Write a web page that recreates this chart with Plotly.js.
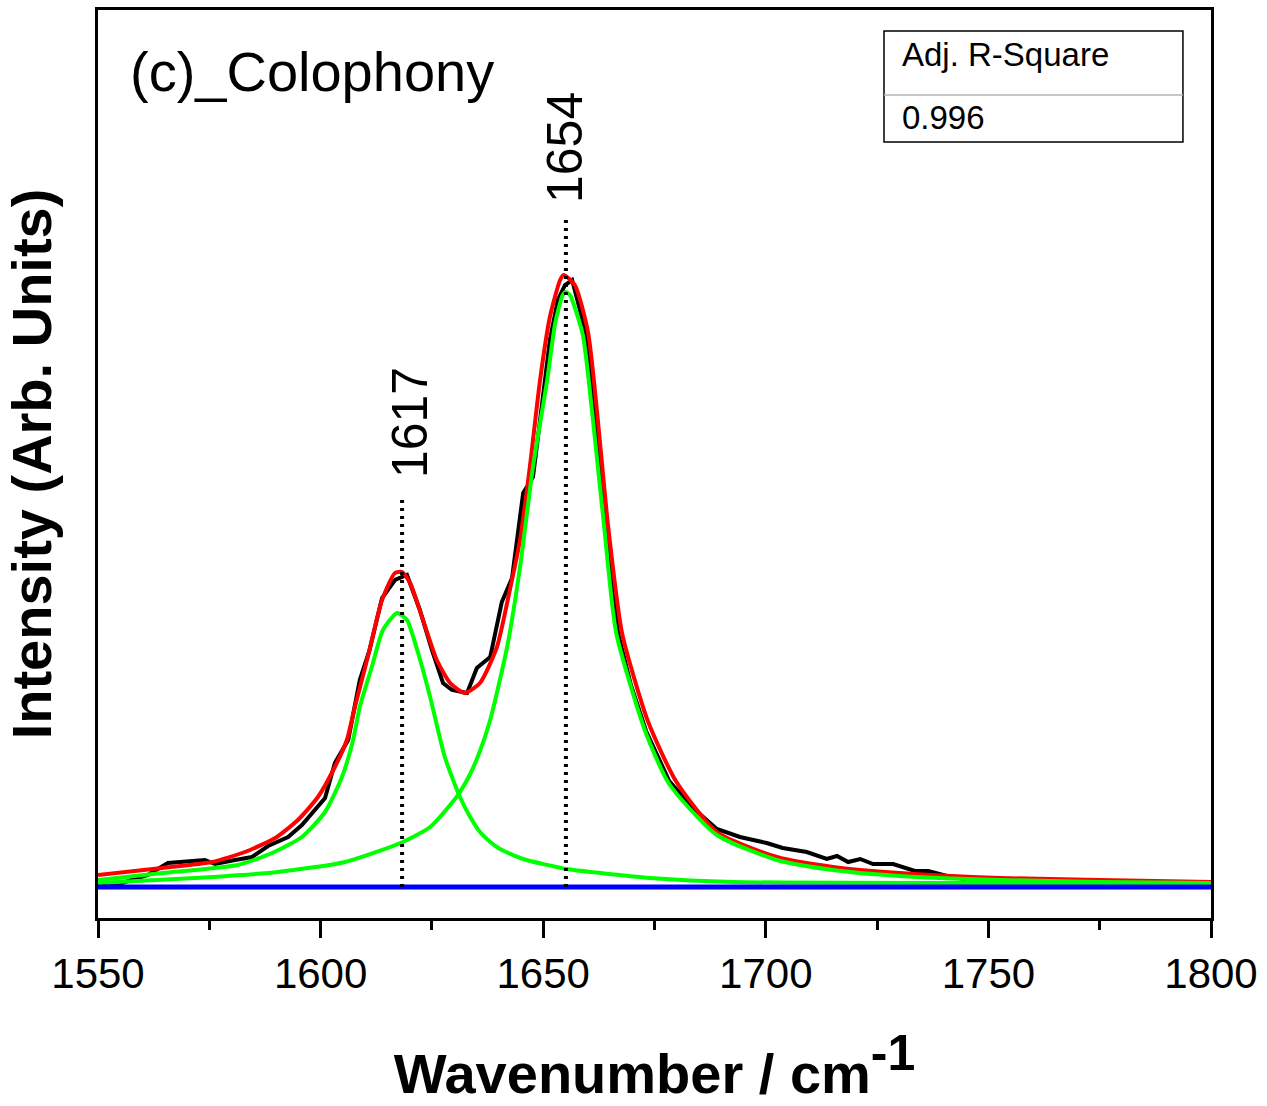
<!DOCTYPE html>
<html>
<head>
<meta charset="utf-8">
<script src="https://cdn.plot.ly/plotly-3.0.1.min.js"></script>
<style>html,body{margin:0;padding:0;background:#fff;}</style>
</head>
<body>
<div id="chart" style="width:1267px;height:1106px;"></div>
<script>
// Measured spectrum (black)
const dataX = [1550,1555.4,1561.2,1565.7,1574.0,1576.3,1580.8,1584.6,1588.2,1592.7,1595.8,1601.0,1603.2,1606.2,1608.8,1611.0,1613.8,1616.7,1619.4,1622.3,1625.0,1627.5,1629.5,1632.9,1635.1,1638.1,1640.7,1643.0,1645.5,1647.7,1649.3,1651.5,1653.3,1654.9,1656.5,1659.6,1661.6,1664.1,1666.8,1669.7,1673.1,1678.3,1683.9,1689.0,1694.2,1700.2,1703.8,1709.2,1713.7,1716.0,1718.5,1721.2,1724.1,1728.6,1733.5,1736.5,1740.7,1744.5,1748.8,1755,1765,1775,1787,1800];
const dataY = [2,4,12,24,27,23,27,30,41,50,62,89,124,147,207,237,289,307,312,277,237,204,197,194,219,230,285,309,394,410,467,547,587,602,607,554,466,360,254,202,156,106,78,58,50,44,39,35,28,31,25,28,23,23,16,16,11,8,5,3,2,3,2,3];

// Cumulative fit (red)
const fitX = [1550,1564.4,1575.6,1583.0,1589.8,1594.9,1599.4,1603.2,1605.9,1607.7,1610.6,1613.8,1616.7,1618.3,1620.1,1623.0,1626.1,1629.1,1632.4,1635.8,1639.6,1642.5,1644.8,1647.0,1649.3,1651.5,1653.8,1654.6,1657.1,1660.1,1664.6,1667.7,1673.5,1679.8,1689.0,1702.5,1715.1,1730.1,1752.6,1775,1800];
const fitY = [12,19,25,35,49,67,90,120,147,180,230,287,314,315,304,267,227,204,194,204,240,297,347,420,507,570,607,612,602,554,360,254,166,106,55,30,20,14,9,7,5];

// Component peak at 1617 (green)
const peak1X = [1550,1564.4,1581.4,1589.1,1595.8,1601.0,1604.8,1607.3,1608.8,1611.5,1614.0,1617.2,1619.4,1621.9,1624.6,1627.9,1631.3,1633.6,1635.8,1638.1,1640.3,1645.5,1655.3,1662.8,1674.0,1692.6,1752.6,1800];
const peak1Y = [7,14,22,34,50,75,110,147,180,220,257,274,267,234,190,130,90,70,55,45,38,28,18,14,9,5,4,3];

// Component peak at 1654 (green)
const peak2X = [1550,1571.8,1590.4,1605.5,1618.5,1624.6,1629.1,1631.3,1633.6,1635.8,1638.1,1641.9,1644.8,1647.7,1650.9,1652.7,1654.4,1655.1,1656.0,1658.9,1661.2,1663.7,1666.4,1672.9,1678.3,1689.0,1702.5,1715.1,1730.1,1752.6,1775,1800];
const peak2Y = [4,9,15,25,45,60,82,95,113,136,167,240,320,420,507,564,592,595,592,552,466,360,254,156,103,52,27,17,11,7,5,4];

// Baseline (blue)
const baseX = [1550, 1800];
const baseY = [0, 0];

// Peak markers
const peakLineX = [1618.3, 1655.1];
const peakLineTop = [390, 667];
const peakLabels = ['1617', '1654'];
const peakLabelX = [1620.1, 1654.9];
const peakLabelY = [464, 739];

const panelLabel = '(c)_Colophony';
const statName = 'Adj. R-Square';
const statValue = '0.996';

const FONT = 'Liberation Sans, Arial, Helvetica, sans-serif';

const traces = [
  {x: dataX, y: dataY, mode: 'lines', line: {color: '#000000', width: 4}, hoverinfo: 'skip'},
  {x: fitX, y: fitY, mode: 'lines', line: {color: '#ff0000', width: 4, shape: 'spline', smoothing: 0.6}, hoverinfo: 'skip'},
  {x: peak1X, y: peak1Y, mode: 'lines', line: {color: '#00ff00', width: 4, shape: 'spline', smoothing: 0.6}, hoverinfo: 'skip'},
  {x: peak2X, y: peak2Y, mode: 'lines', line: {color: '#00ff00', width: 4, shape: 'spline', smoothing: 0.6}, hoverinfo: 'skip'},
  {x: baseX, y: baseY, mode: 'lines', line: {color: '#0000ff', width: 5}, hoverinfo: 'skip'}
];
peakLineX.forEach((px, i) => {
  traces.push({x: [px, px], y: [0, peakLineTop[i]], mode: 'lines',
    line: {color: '#000000', width: 4, dash: '3px,5px'}, hoverinfo: 'skip'});
});

const annotations = peakLabels.map((t, i) => ({
  x: peakLabelX[i], y: peakLabelY[i], xref: 'x', yref: 'y', text: t, showarrow: false,
  textangle: -90, xanchor: 'center', yanchor: 'middle',
  font: {family: FONT, size: 50, color: '#000'}
}));
annotations.push({x: 0.027, y: 0.932, xref: 'paper', yref: 'paper', text: panelLabel, showarrow: false,
  xanchor: 'left', yanchor: 'middle', font: {family: FONT, size: 56, color: '#000'}});
annotations.push({x: 0.7206, y: 0.9515, xref: 'paper', yref: 'paper', text: statName, showarrow: false,
  xanchor: 'left', yanchor: 'middle', font: {family: FONT, size: 33, color: '#000'}});
annotations.push({x: 0.7206, y: 0.8815, xref: 'paper', yref: 'paper', text: statValue, showarrow: false,
  xanchor: 'left', yanchor: 'middle', font: {family: FONT, size: 33, color: '#000'}});

const layout = {
  width: 1267, height: 1106,
  margin: {l: 98, r: 56, t: 10, b: 188, pad: 0},
  paper_bgcolor: '#ffffff', plot_bgcolor: '#ffffff',
  showlegend: false,
  font: {family: FONT, color: '#000'},
  xaxis: {
    range: [1550, 1800], tick0: 1550, dtick: 50,
    ticks: 'outside', ticklen: 17, tickwidth: 3, tickcolor: '#000',
    minor: {tick0: 1550, dtick: 25, ticks: 'outside', ticklen: 9, tickwidth: 3, tickcolor: '#000', showgrid: false},
    showline: true, linewidth: 3, linecolor: '#000', mirror: true,
    showgrid: false, zeroline: false,
    tickfont: {family: FONT, size: 42, color: '#000'},
    title: {text: 'Wavenumber / cm<sup><span style="font-size:50px">-1</span></sup>', font: {family: FONT, size: 56, weight: 'bold', color: '#000'}, standoff: 58}
  },
  yaxis: {
    range: [-31, 877], showticklabels: false, ticks: '',
    showline: true, linewidth: 3, linecolor: '#000', mirror: true,
    showgrid: false, zeroline: false,
    title: {text: 'Intensity (Arb. Units)', font: {family: FONT, size: 56, weight: 'bold', color: '#000'}, standoff: 28}
  },
  shapes: [
    {type: 'rect', xref: 'paper', yref: 'paper', x0: 0.7062, x1: 0.9748, y0: 0.8546, y1: 0.9769,
     line: {color: '#000', width: 1.5}, fillcolor: 'rgba(0,0,0,0)'},
    {type: 'line', xref: 'paper', yref: 'paper', x0: 0.7062, x1: 0.9748, y0: 0.9064, y1: 0.9064,
     line: {color: '#b4b4b4', width: 1.5}}
  ],
  annotations: annotations
};

Plotly.newPlot('chart', traces, layout, {displayModeBar: false, staticPlot: true});
</script>
</body>
</html>
